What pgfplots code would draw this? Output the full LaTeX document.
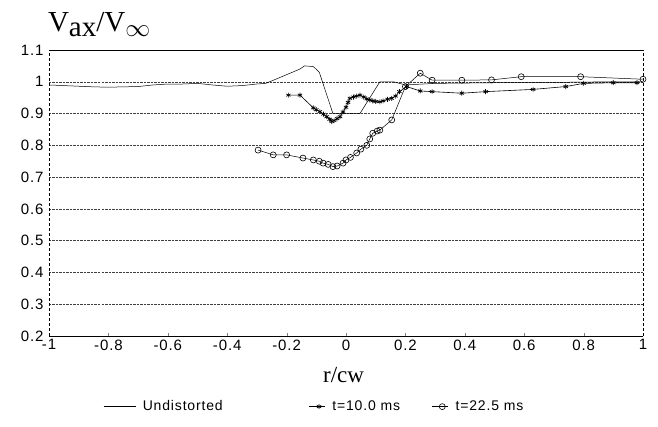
\documentclass[border=0pt]{standalone}
\usepackage{pgfplots}
\pgfplotsset{compat=1.18}
\usepackage{fontspec}
\setmainfont{Liberation Sans}
\newfontfamily\serif{Liberation Serif}
\newfontfamily\wide[LetterSpace=6]{Liberation Sans}

\begin{document}
\begin{tikzpicture}
\useasboundingbox (-49pt,-91pt) rectangle (609pt,336pt);
\begin{axis}[
  scale only axis, width=594pt, height=286pt,
  xmin=-1, xmax=1, ymin=0.2, ymax=1.1,
  xtick={-1,-0.8,...,1}, ytick={0.2,0.3,...,1.1},
  /pgf/number format/assume math mode=true,
  ticklabel style={font=\wide\fontsize{15}{17}\selectfont},
  yticklabel style={xshift=-2pt},
  xtick pos=lower, ytick style={draw=none},
  tick align=inside, major tick length=3pt,
  separate axis lines,
  x axis line style={line width=0.6pt},
  y axis line style={densely dashed, line width=0.5pt},
  ymajorgrids, major grid style={dash pattern=on 2.5pt off 1pt, black!75, line width=0.5pt},
  title={\serif\fontsize{29}{31}\selectfont V\raisebox{-5pt}{ax}/V\raisebox{-5pt}{$\infty$}},
  title style={at={(axis description cs:-0.002,1.045)}, anchor=base west, inner sep=0pt},
  xlabel={\serif\fontsize{23}{25}\selectfont r/cw},
  xlabel style={at={(axis description cs:0.496,-0.138)}, anchor=center},
  legend columns=3,
  legend style={draw=none, fill=none, at={(axis description cs:0.086,-0.247)}, anchor=west,
    font=\wide\fontsize{14}{16}\selectfont,
    /tikz/every odd column/.style={column sep=5pt},
    /tikz/column 2/.style={column sep=84pt},
    /tikz/column 4/.style={column sep=30pt}},
  every axis plot/.append style={black, line width=0.5pt},
]
\addplot[mark=none, legend image code/.code={\draw[black,line width=0.5pt] (0pt,0pt) -- (32pt,0pt);}] coordinates {
(-1,0.99) (-0.95,0.988) (-0.9,0.986) (-0.85,0.984) (-0.8,0.983) (-0.75,0.984) (-0.7,0.985)
(-0.65,0.99) (-0.6,0.993) (-0.55,0.993) (-0.5,0.995) (-0.45,0.99) (-0.4,0.986) (-0.35,0.988)
(-0.3,0.993) (-0.27,0.995) (-0.155,1.04) (-0.14,1.05) (-0.11,1.048) (-0.09,1.03)
(-0.044,0.90) (0.0,0.90) (0.047,0.90) (0.114,1.0) (0.16,1.0) (0.2,0.99) (0.3,0.995)
(0.5,0.997) (0.7,0.998) (0.9,1.0) (1.0,1.0)
};
\addlegendentry{Undistorted}
\addplot[mark=asterisk, mark size=2.5pt, line width=0.6pt, mark options={line width=0.7pt},
  legend image code/.code={\draw[black,line width=0.5pt] (0pt,0pt) -- (16pt,0pt); \draw[black,line width=0.7pt] plot[mark=asterisk, mark size=2.5pt] coordinates {(10pt,0pt)};}] coordinates {
(-0.194,0.958) (-0.155,0.958) (-0.11,0.918) (-0.1,0.912) (-0.088,0.906) (-0.076,0.898)
(-0.065,0.89) (-0.055,0.882) (-0.048,0.875) (-0.04,0.878) (-0.03,0.884) (-0.02,0.89)
(-0.01,0.905) (0.0,0.92) (0.007,0.935) (0.013,0.948) (0.025,0.952) (0.035,0.955)
(0.047,0.958) (0.06,0.952) (0.07,0.946) (0.08,0.943) (0.09,0.94) (0.1,0.938)
(0.114,0.937) (0.125,0.94) (0.14,0.945) (0.154,0.948) (0.167,0.955) (0.18,0.969)
(0.204,0.985) (0.25,0.971) (0.29,0.969) (0.39,0.964) (0.47,0.969) (0.63,0.976)
(0.74,0.985) (0.80,0.995) (0.90,0.997) (0.98,0.997)
};
\addlegendentry{t=10.0 ms}
\addplot[mark=o, mark size=3pt, mark options={line width=0.6pt},
  legend image code/.code={\draw[black,line width=0.5pt] (0pt,0pt) -- (16pt,0pt); \draw[black,line width=0.6pt] plot[mark=o, mark size=3pt] coordinates {(10pt,0pt)};}] coordinates {
(-0.296,0.785) (-0.245,0.77) (-0.2,0.77) (-0.145,0.76) (-0.11,0.754) (-0.09,0.75)
(-0.077,0.744) (-0.06,0.74) (-0.044,0.733) (-0.03,0.735) (-0.01,0.744) (0.0,0.754)
(0.015,0.762) (0.036,0.776) (0.05,0.788) (0.07,0.80) (0.08,0.82) (0.09,0.838)
(0.105,0.845) (0.114,0.848) (0.154,0.88) (0.2,0.985) (0.25,1.027) (0.29,1.005)
(0.39,1.005) (0.49,1.006) (0.59,1.016) (0.79,1.016) (1.0,1.008)
};
\addlegendentry{t=22.5 ms}
\end{axis}
\end{tikzpicture}
\end{document}
